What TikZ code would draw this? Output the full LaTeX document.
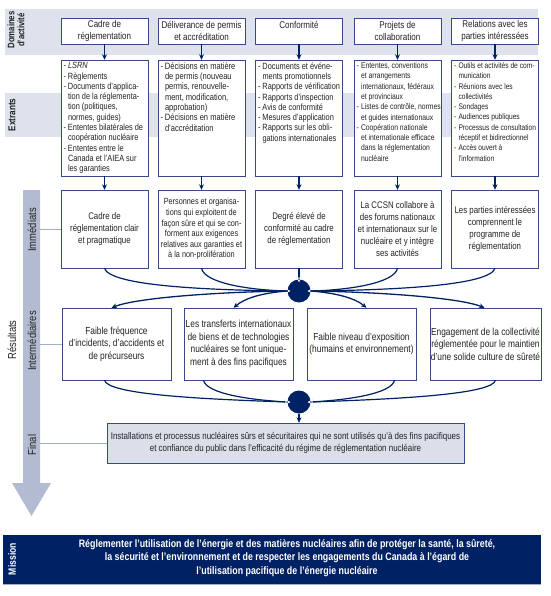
\documentclass[tikz,border=0pt]{standalone}
\usepackage{fontspec}
\setmainfont{Liberation Sans}[FakeStretch=0.82]
\usetikzlibrary{arrows.meta}
\definecolor{navy}{RGB}{0,33,99}
\definecolor{boxline}{RGB}{55,74,135}
\definecolor{bandgray}{RGB}{221,226,236}
\definecolor{arrowgray}{RGB}{178,187,210}
\definecolor{linkgray}{RGB}{160,172,200}
\definecolor{finfill}{RGB}{218,223,234}
\definecolor{txt}{RGB}{35,35,35}
\newcommand{\itm}[1]{\par\hangindent=4.5pt\hangafter=1\noindent\makebox[4.5pt][l]{-}#1}
\newcommand{\extlist}[1]{\begin{minipage}[t]{86pt}#1\end{minipage}}
\newcommand{\fs}[1]{\fontsize{#1}{10.3}\selectfont}
\tikzset{
  lbl/.style={rotate=90, inner sep=0pt, text=txt, font=\fontsize{11.5}{11}\selectfont},
  dombox/.style={draw=boxline, fill=white, minimum width=87pt, minimum height=26pt,
    inner sep=1pt, align=center, text=txt, font=\fontsize{9.8}{12}\selectfont},
  extbox/.style={draw=boxline, fill=white, minimum width=87pt, minimum height=116pt, inner sep=0pt},
  exttext/.style={anchor=north west, inner sep=0pt, text=txt},
  immbox/.style={draw=boxline, fill=white, minimum width=87pt, minimum height=78pt,
    inner sep=1pt, align=center, text=txt, font=\fontsize{9.6}{11.8}\selectfont},
  intbox/.style={draw=boxline, fill=white, minimum width=109pt, minimum height=72pt,
    inner sep=1pt, align=center, text=txt, font=\fontsize{10.2}{12.6}\selectfont},
  hub/.style={circle, fill=navy, minimum size=23pt, inner sep=0pt},
  arr/.style={draw=navy, line width=1.3pt, -{Stealth[length=5.5pt,width=5pt]}},
  cin/.style={draw=navy, line width=1.2pt, shorten >=-3pt,
    -{Stealth[length=6.5pt,width=6.5pt,color=white,fill=navy,line width=0.7pt]}},
  link/.style={draw=linkgray, line width=1pt}
}
\begin{document}
\begin{tikzpicture}[x=1pt,y=-1pt]
\useasboundingbox (0,0) rectangle (550,596);
% bands and the results arrow
\fill[bandgray] (5,9) rectangle (538,55);
\fill[bandgray] (5,93) rectangle (538,137);
\fill[arrowgray] (23,190) -- (40,190) -- (40,483) -- (51,483) -- (31.5,516) -- (12,483) -- (23,483) -- cycle;
\coordinate (bar) at (40,0);

% side labels
\node[lbl, align=center, font=\fontsize{9.5}{10}\bfseries] (ldom) at (16,30) {Domaines\\d’activité};
\node[lbl, font=\fontsize{10}{10}\bfseries] (lext) at (12,115) {Extrants};
\node[lbl] (lres) at (12,340) {Résultats};
\node[lbl] (limm) at (32,230) {Immédiats};
\node[lbl] (lint) at (32,341) {Intermédiaires};
\node[lbl] (lfin) at (32,445) {Final};

% domaines d'activite
\node[dombox] (dom1) at (104.5,31) {Cadre de\\réglementation};
\node[dombox] (dom2) at (201.5,31) {Déliverance de permis\\et accréditation};
\node[dombox] (dom3) at (299,31) {Conformité\\\mbox{}};
\node[dombox] (dom4) at (397.5,31) {Projets de\\collaboration};
\node[dombox] (dom5) at (495,31) {Relations avec les\\parties intéressées};

% extrants
\node[extbox] (ext1) at (104.5,118) {};
\node[extbox] (ext2) at (201.5,118) {};
\node[extbox] (ext3) at (299,118) {};
\node[extbox] (ext4) at (397.5,118) {};
\node[extbox] (ext5) at (495,118) {};
\node[exttext, font=\fs{9}] (ext1t) at ([shift={(2.5,2.5)}]ext1.north west) {\extlist{%
  \itm{\textit{LSRN}}
  \itm{Règlements}
  \itm{Documents d’applica-\\tion de la réglementa-\\tion (politiques,\\normes, guides)}
  \itm{Ententes bilatérales de\\coopération nucléaire}
  \itm{Ententes entre le\\Canada et l’AIEA sur\\les garanties}}};
\node[exttext, font=\fs{9.2}] (ext2t) at ([shift={(2.5,2.5)}]ext2.north west) {\extlist{%
  \itm{Décisions en matière\\de permis (nouveau\\permis, renouvelle-\\ment, modification,\\approbation)}
  \itm{Décisions en matière\\d’accréditation}}};
\node[exttext, font=\fs{9}] (ext3t) at ([shift={(2.5,2.5)}]ext3.north west) {\extlist{%
  \itm{Documents et événe-\\ments promotionnels}
  \itm{Rapports de vérification}
  \itm{Rapports d’inspection}
  \itm{Avis de conformité}
  \itm{Mesures d’application}
  \itm{Rapports sur les obli-\\gations internationales}}};
\node[exttext, font=\fs{8.3}] (ext4t) at ([shift={(2.5,2.5)}]ext4.north west) {\extlist{%
  \itm{Ententes, conventions\\et arrangements\\internationaux, fédéraux\\et provinciaux}
  \itm{Listes de contrôle, normes\\et guides internationaux}
  \itm{Coopération nationale\\et internationale efficace\\dans la réglementation\\nucléaire}}};
\node[exttext, font=\fs{8.1}] (ext5t) at ([shift={(2.5,2.5)}]ext5.north west) {\extlist{%
  \itm{Outils et activités de com-\\munication}
  \itm{Réunions avec les\\collectivités}
  \itm{Sondages}
  \itm{Audiences publiques}
  \itm{Processus de consultation\\réceptif et bidirectionnel}
  \itm{Accès ouvert à\\l’information}}};

% resultats immediats
\node[immbox] (imm1) at (104.5,229) {Cadre de\\réglementation clair\\et pragmatique};
\node[immbox, font=\fontsize{8.9}{10.6}\selectfont] (imm2) at (201.5,229) {Personnes et organisa-\\tions qui exploitent de\\façon sûre et qui se con-\\forment aux exigences\\relatives aux garanties et\\à la non-prolifération};
\node[immbox] (imm3) at (299,229) {Degré élevé de\\conformité au cadre\\de réglementation};
\node[immbox] (imm4) at (397.5,229) {La CCSN collabore à\\des forums nationaux\\et internationaux sur le\\nucléaire et y intègre\\ses activités};
\node[immbox] (imm5) at (495,229) {Les parties intéressées\\comprennent le\\programme de\\réglementation};

% resultats intermediaires
\node[intbox] (int1) at (116.5,344) {Faible fréquence\\d’incidents, d’accidents et\\de précurseurs};
\node[intbox] (int2) at (238.5,344) {Les transferts internationaux\\de biens et de technologies\\nucléaires se font unique-\\ment à des fins pacifiques};
\node[intbox] (int3) at (361.5,344) {Faible niveau d’exposition\\(humains et environnement)};
\node[intbox] (int4) at (485.5,344) {Engagement de la collectivité\\réglementée pour le maintien\\d’une solide culture de sûreté};

% resultat final
\node[draw=boxline, fill=finfill, minimum width=357pt, minimum height=40pt, inner sep=1pt,
  align=center, text=txt, font=\fontsize{9.7}{12.5}\selectfont] (fin) at (285.5,443)
  {Installations et processus nucléaires sûrs et sécuritaires qui ne sont utilisés qu’à des fins pacifiques\\
   et confiance du public dans l’efficacité du régime de réglementation nucléaire};

% hubs
\node[hub] (c1) at (299,291) {};
\node[hub] (c2) at (299,402) {};

% mission
\node[fill=navy, minimum width=538pt, minimum height=49pt, inner sep=0pt] (mission) at (272,559.5) {};
\draw[linkgray, line width=1.2pt] (mission.south west) -- (mission.south east);
\node[lbl, text=white, font=\fontsize{10.5}{10}\bfseries] (lmis) at (12,559) {Mission};
\node[align=center, text=white, font=\fontsize{10.8}{13.3}\bfseries] (mtext) at (287,558)
  {Réglementer l’utilisation de l’énergie et des matières nucléaires afin de protéger la santé, la sûreté,\\
   la sécurité et l’environnement et de respecter les engagements du Canada à l’égard de\\
   l’utilisation pacifique de l’énergie nucléaire};

% links from the arrow
\draw[link] (bar |- imm1.west) -- (imm1.west);
\draw[link] (bar |- int1.west) -- (int1.west);
\draw[link] (bar |- fin.west) -- (fin.west);

% straight arrows
\foreach \i in {1,...,5} {
  \draw[arr] (dom\i.south) -- (ext\i.north);
  \draw[arr] (ext\i.south) -- (imm\i.north);
}

% into first hub
\draw[cin] (imm3.south) -- (c1.north);
\draw[cin] (imm1.south) .. controls +(5,17) and +(-88,-1) .. (c1.west);
\draw[cin] (imm2.south) .. controls +(3,15) and +(-38,-1) .. (c1.west);
\draw[cin] (imm4.south) .. controls +(-3,15) and +(38,-1) .. (c1.east);
\draw[cin] (imm5.south) .. controls +(-5,17) and +(88,-1) .. (c1.east);

% out of first hub
\draw[arr] (c1.west) .. controls +(-70,1) and +(25,-10) .. ([xshift=-5pt]int1.north);
\draw[arr] (c1.west) .. controls +(-25,2) and +(12,-10) .. ([xshift=-5pt]int2.north);
\draw[arr] (c1.east) .. controls +(25,2) and +(-12,-10) .. ([xshift=5pt]int3.north);
\draw[arr] (c1.east) .. controls +(70,1) and +(-25,-10) .. ([xshift=-1pt]int4.north);

% into second hub
\draw[cin] ([xshift=-12pt]int1.south) .. controls +(3,14) and +(-90,-3) .. (c2.west);
\draw[cin] ([xshift=-35pt]int2.south) .. controls +(3,14) and +(-35,-2) .. (c2.west);
\draw[cin] ([xshift=33pt]int3.south) .. controls +(-3,14) and +(35,-2) .. (c2.east);
\draw[cin] ([xshift=10pt]int4.south) .. controls +(-3,14) and +(90,-3) .. (c2.east);

\draw[arr] (c2.south) -- (c2 |- fin.north);
\end{tikzpicture}
\end{document}
